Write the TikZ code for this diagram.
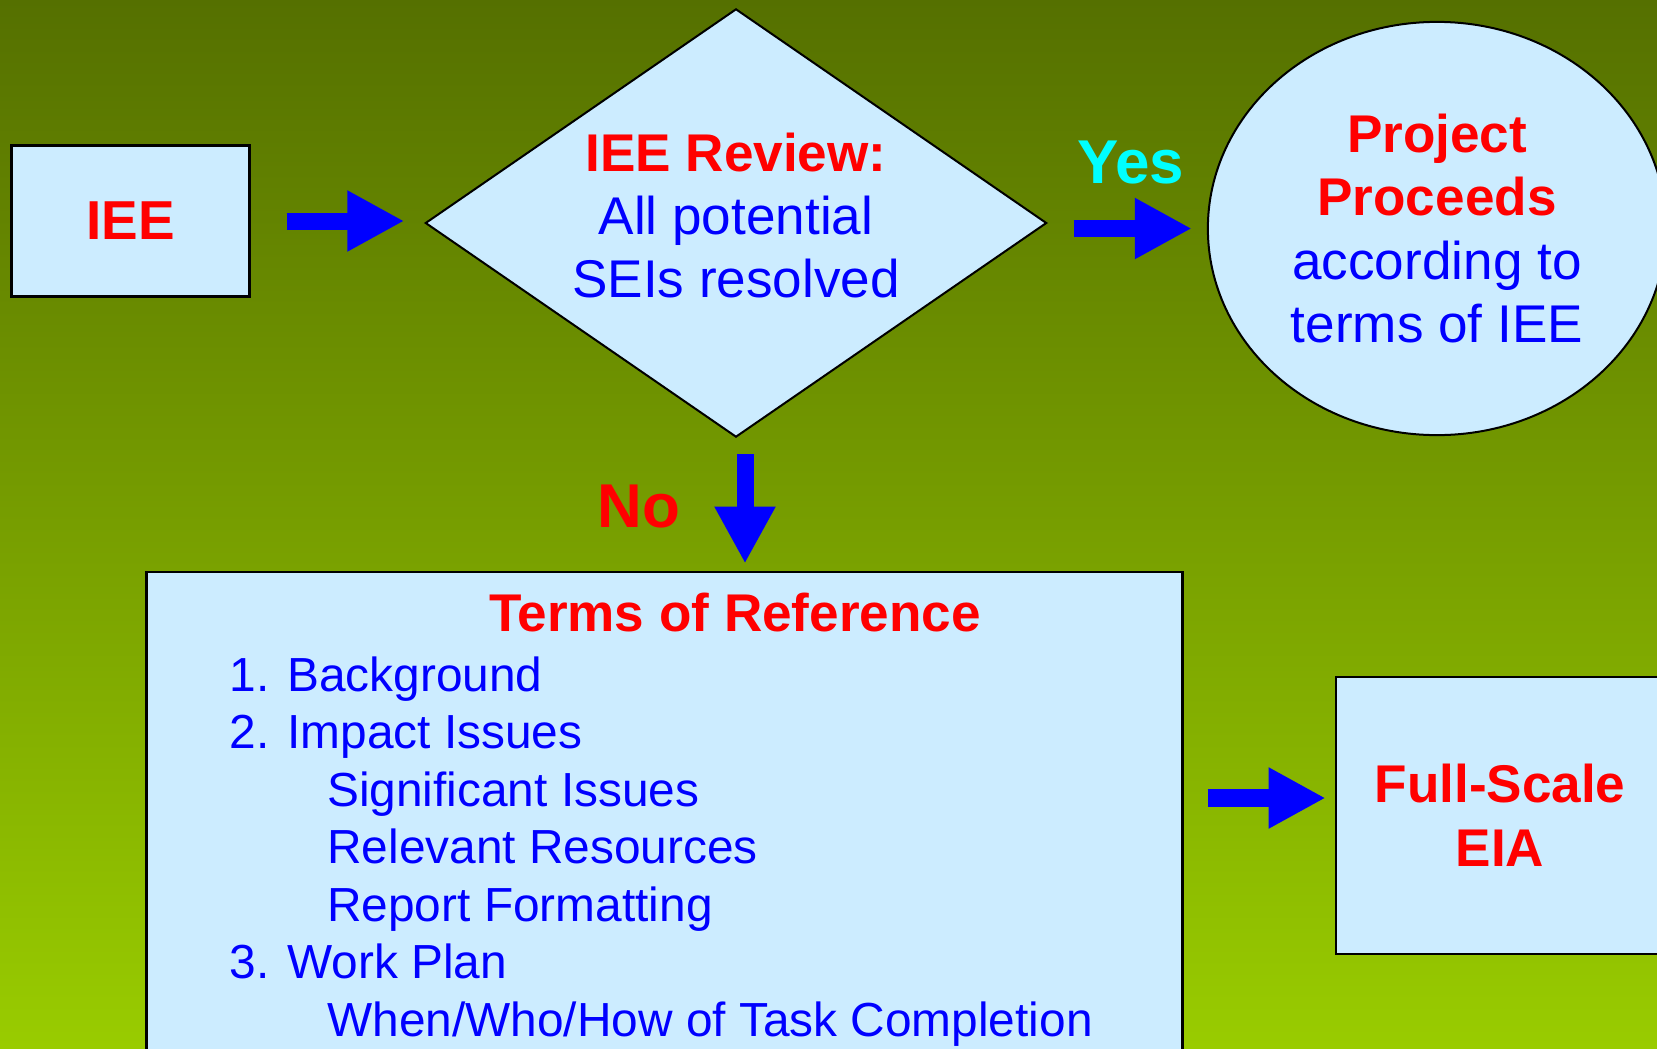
\documentclass[tikz,border=0pt]{standalone}
\usepackage{fontspec}
\setmainfont{Liberation Sans}
\usetikzlibrary{shapes.geometric,arrows.meta}

\definecolor{boxblue}{HTML}{CCECFF}
\definecolor{titlered}{HTML}{FF0000}
\definecolor{itemblue}{HTML}{0000FF}
\definecolor{yescyan}{HTML}{00FFFF}
\definecolor{olivetop}{HTML}{557000}
\definecolor{olivebottom}{HTML}{99CC00}

\newcommand{\mainsize}{\fontsize{15.1}{17.9}\selectfont}
\newcommand{\listsize}{\fontsize{13.6}{16.36}\selectfont}

\begin{document}
\begin{tikzpicture}[x=0.01cm,y=-0.01cm,
  panel/.style={shape=rectangle,draw=black,fill=boxblue,line width=0.025cm,inner sep=0pt},
  decision/.style={shape=diamond,draw=black,fill=boxblue,line width=0.02cm,inner sep=0pt},
  outcome/.style={shape=ellipse,draw=black,fill=boxblue,line width=0.02cm,inner sep=0pt},
  blockarrow/.style={draw=itemblue,line width=0.17cm,-{Triangle[length=0.57cm,width=0.57cm]}},
  answer/.style={font=\fontsize{17.6}{20}\selectfont\bfseries,anchor=base,inner sep=0pt}]
\useasboundingbox (0,0) rectangle (1657,1048);
\clip (0,0) rectangle (1657,1048);
\shade[top color=olivetop,bottom color=olivebottom] (0,0) rectangle (1657,1048);

\node[panel,line width=0.03cm,minimum width=2.37cm,minimum height=1.5cm,font=\fontsize{15.6}{18}\selectfont\bfseries,text=titlered] (iee) at (130.5,221) {IEE};
\node[decision,minimum width=6.21cm,minimum height=4.28cm] (review) at (736,223) {};
\node[align=center,inner sep=0pt,font=\mainsize,text=itemblue] (reviewtext) at ([yshift=0.075cm]review.center) {\textcolor{titlered}{\bfseries IEE Review:}\\All potential\\SEIs resolved};
\node[outcome,minimum width=4.58cm,minimum height=4.13cm,align=center,text=itemblue,font=\fontsize{15.1}{18}\selectfont] (proceeds) at (1437,228.5) {\textcolor{titlered}{\bfseries Project}\\\textcolor{titlered}{\bfseries Proceeds}\\according to\\terms of IEE};
\node[panel,minimum width=10.35cm,minimum height=5.28cm] (tor) at (664.5,836) {};
\node[anchor=base,inner sep=0pt,font=\mainsize\bfseries,text=titlered] (torhead) at (735,631) {Terms of Reference};
\node[anchor=north west,inner sep=0pt,align=left,text=itemblue,font=\listsize] (torlist) at (229,655.8) {1. Background\\2. Impact Issues\\\hspace*{0.975cm}Significant Issues\\\hspace*{0.975cm}Relevant Resources\\\hspace*{0.975cm}Report Formatting\\3. Work Plan\\\hspace*{0.975cm}When/Who/How of Task Completion};
\node[panel,minimum width=3.28cm,minimum height=2.77cm,align=center,font=\fontsize{15.1}{18.2}\selectfont\bfseries,text=titlered] (eia) at (1500,815.5) {Full-Scale\\EIA};
\node[answer,text=yescyan] (yes) at (1131,183) {Yes};
\node[answer,text=titlered] (no) at (639,527) {No};

\draw[blockarrow,shorten <=0.36cm,shorten >=0.2cm] (iee.east) -- (iee.east -| review.west);
\coordinate (nodrop) at ([xshift=0.09cm]review.south);
\draw[blockarrow,shorten <=0.16cm,shorten >=0.07cm] (nodrop) -- (nodrop |- tor.north);
\draw[blockarrow,shorten <=0.26cm,shorten >=0.15cm] (review.east |- proceeds.west) -- (proceeds.west);
\coordinate (fsentry) at ([yshift=0.175cm]eia.west);
\draw[blockarrow,shorten <=0.24cm,shorten >=0.09cm] (fsentry -| tor.east) -- (fsentry);
\end{tikzpicture}
\end{document}
